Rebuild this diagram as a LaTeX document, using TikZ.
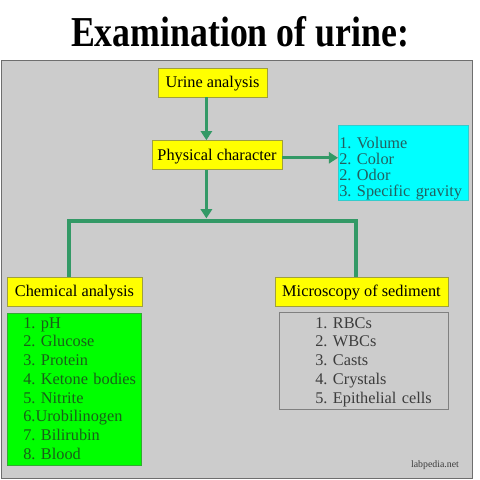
\documentclass[tikz,border=0pt]{standalone}
\usepackage{fontspec}
\setmainfont{Liberation Serif}
\usetikzlibrary{arrows.meta}

\definecolor{panelgray}{RGB}{204,204,204}
\definecolor{paneledge}{RGB}{110,110,110}
\definecolor{headfill}{RGB}{255,255,0}
\definecolor{headedge}{RGB}{160,160,60}
\definecolor{flowgreen}{RGB}{51,153,102}
\definecolor{cyanfill}{RGB}{0,255,255}
\definecolor{cyanedge}{RGB}{51,204,204}
\definecolor{cyantext}{RGB}{35,95,95}
\definecolor{greenfill}{RGB}{0,255,0}
\definecolor{greenedge}{RGB}{51,170,51}
\definecolor{greentext}{RGB}{25,95,25}
\definecolor{listedge}{RGB}{128,128,128}
\definecolor{listtext}{RGB}{60,60,60}

\begin{document}
\frenchspacing
\begin{tikzpicture}[
  header/.style={draw=headedge, fill=headfill, inner sep=0pt, text height=0.5cm, text depth=0.225cm,
    font=\fontsize{11.6}{13.3}\selectfont},
  listbox/.style={anchor=north west, inner sep=0pt, execute at begin node={\leftskip=#1}},
  flow/.style={draw=flowgreen, line width=2.1pt, -{Triangle[length=0.23cm,width=0.28cm]}},
  trunkline/.style={draw=flowgreen, line width=3.5pt, line join=miter}
]
\useasboundingbox (0,0) rectangle (12,12);

% Title and panel
\node (title) at (6,11.2) {\fontsize{30.3}{36}\selectfont\bfseries\scalebox{0.84}[1]{Examination of urine:}};
\draw[paneledge, fill=panelgray] (0.02,0.05) rectangle (11.8,10.5);

% Define points
\coordinate (trunk) at (5.16,6.54);
\coordinate (lbar) at (1.725,6.475);
\coordinate (rbar) at (8.9,6.475);

% Boxes
\node[header, minimum width=2.725cm] (urine) at (5.3125,9.9375) {Urine analysis};
\node[header, minimum width=3.25cm] (physical) at (5.425,8.125) {Physical character};
\node[listbox=0.025cm, draw=cyanedge, fill=cyanfill, text=cyantext, text width=3.25cm,
  text height=0.575cm, text depth=1.3cm, font=\fontsize{11.6}{11.34}\selectfont] (physlist) at (8.45,8.875)
  {1. Volume\\ 2. Color\\ 2. Odor\\ 3. Specific gravity};
\node[header, minimum width=3.375cm] (chem) at (1.8625,4.7125) {Chemical analysis};
\node[header, minimum width=4.325cm] (micro) at (9.0375,4.7125) {Microscopy of sediment};
\node[listbox=0.4cm, draw=greenedge, fill=greenfill, text=greentext, text width=3.35cm,
  text height=0.375cm, text depth=3.425cm, font=\fontsize{11.6}{13.3}\selectfont] (chemlist) at (0.175,4.175)
  {1. pH\\ 2. Glucose\\ 3. Protein\\ 4. Ketone bodies\\ 5. Nitrite\\ 6.Urobilinogen\\ 7. Bilirubin\\ 8. Blood};
\node[listbox=0.9cm, draw=listedge, text=listtext, text width=4.225cm,
  text height=0.4cm, text depth=2.025cm, font=\fontsize{11.6}{13.3}\selectfont] (microlist) at (6.975,4.2)
  {1. RBCs\\ 2. WBCs\\ 3. Casts\\ 4. Crystals\\ 5. Epithelial cells};
\node[text=listtext, font=\fontsize{7}{8}\selectfont] (site) at (10.875,0.375) {labpedia.net};

% Connectors
\draw[flow] (urine.south -| trunk) -- (physical.north -| trunk);
\draw[flow] ([yshift=-0.07cm]physical.east) -- ([yshift=-0.07cm]physical.east -| physlist.west);
\draw[flow] (physical.south -| trunk) -- (trunk);
\draw[trunkline] (chem.north -| lbar) -- (lbar) -- (rbar) -- (micro.north -| rbar);

\end{tikzpicture}
\end{document}
